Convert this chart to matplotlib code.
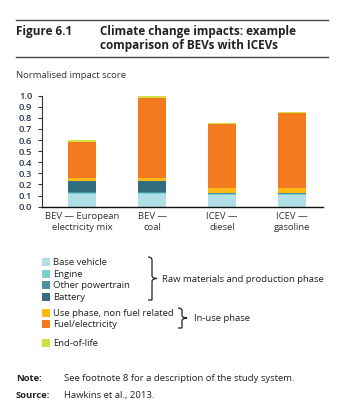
import matplotlib.pyplot as plt
import numpy as np
from matplotlib.path import Path
from matplotlib.patches import PathPatch, Rectangle

plt.rcParams['font.family'] = ['Open Sans', 'DejaVu Sans']

# data
categories = ['BEV \u2014 European\nelectricity mix', 'BEV \u2014\ncoal', 'ICEV \u2014\ndiesel', 'ICEV \u2014\ngasoline']
base_vehicle = [0.11, 0.11, 0.105, 0.105]
engine = [0.01, 0.01, 0.01, 0.01]
other_powertrain = [0.015, 0.015, 0.01, 0.01]
battery = [0.10, 0.10, 0.0, 0.0]
use_phase = [0.025, 0.025, 0.04, 0.04]
fuel = [0.325, 0.715, 0.58, 0.68]
end_of_life = [0.015, 0.025, 0.01, 0.01]

series_names = ['Base vehicle', 'Engine', 'Other powertrain', 'Battery',
                'Use phase, non fuel related', 'Fuel/electricity', 'End-of-life']
series = [base_vehicle, engine, other_powertrain, battery, use_phase, fuel, end_of_life]
colors = ['#b0e0e6', '#7dcfcc', '#4a92a6', '#336e80', '#fdb813', '#f47a20', '#d6df42']

W, H = 354, 415
fig = plt.figure(figsize=(W / 100, H / 100), dpi=100)

# overlay axes in pixel coordinates for the text furniture
ov = fig.add_axes([0, 0, 1, 1])
ov.set_xlim(0, W)
ov.set_ylim(H, 0)
ov.axis('off')

ov.plot([16, 328], [20, 20], color='#444444', lw=1.0)
ov.plot([16, 328], [57, 57], color='#444444', lw=1.0)
ov.text(16, 32, 'Figure 6.1', fontsize=8.5, fontweight='bold', va='center', color='#222222')
ov.text(100, 32, 'Climate change impacts: example', fontsize=8.5,
        fontweight='bold', va='center', color='#222222')
ov.text(100, 46, 'comparison of BEVs with ICEVs', fontsize=8.5,
        fontweight='bold', va='center', color='#222222')
ov.text(16, 76, 'Normalised impact score', fontsize=6.8, va='center', color='#333333')

# chart axes
x0, x1, ytop, ybot = 42, 323, 95.7, 206.7
ax = fig.add_axes([x0 / W, (H - ybot) / H, (x1 - x0) / W, (ybot - ytop) / H])
x = np.arange(len(categories))
bottom = np.zeros(len(categories))
for vals, c in zip(series, colors):
    ax.bar(x, vals, width=0.4, bottom=bottom, color=c, linewidth=0)
    bottom += np.array(vals)

ax.set_xlim(-0.57, 3.44)
ax.set_ylim(0, 1.0)
ax.set_yticks(np.arange(0, 1.01, 0.1))
ax.set_yticklabels([f'{v:.1f}' for v in np.arange(0, 1.01, 0.1)])
ax.set_xticks(x)
ax.set_xticklabels(categories)
ax.tick_params(axis='y', length=3, width=0.8, color='#333333', labelsize=6.8,
               labelcolor='#2c3a52', pad=4)
ax.tick_params(axis='x', length=0, labelsize=6.8, labelcolor='#333333', pad=4)
for lab in ax.get_yticklabels():
    lab.set_fontweight('semibold')
ax.spines['top'].set_visible(False)
ax.spines['right'].set_visible(False)
ax.spines['left'].set_color('#333333')
ax.spines['left'].set_linewidth(0.8)
ax.spines['bottom'].set_color('#111111')
ax.spines['bottom'].set_linewidth(1.0)

# legend
rows_y = [262, 274, 285, 297, 313, 324, 343]
for name, c, yy in zip(series_names, colors, rows_y):
    ov.add_patch(Rectangle((42, yy - 4), 8, 8, color=c, lw=0))
    ov.text(53, yy, name, fontsize=6.8, va='center', color='#222222')


def brace(xl, yt, yb, tip):
    ym = (yt + yb) / 2
    xm = xl + 4
    verts = [(xl, yt), (xm, yt), (xm, yt + 3), (xm, yt + 4),
             (xm, ym - 3),
             (xm, ym), (tip, ym),
             (xm, ym), (xm, ym + 3),
             (xm, yb - 4),
             (xm, yb - 3), (xm, yb), (xl, yb)]
    codes = [Path.MOVETO, Path.CURVE3, Path.CURVE3, Path.LINETO,
             Path.LINETO,
             Path.CURVE3, Path.CURVE3,
             Path.CURVE3, Path.CURVE3,
             Path.LINETO,
             Path.CURVE3, Path.CURVE3, Path.LINETO]
    ov.add_patch(PathPatch(Path(verts, codes), fill=False, lw=0.9, color='#222222'))


brace(148, 257, 300, 157)
ov.text(162, 279, 'Raw materials and production phase', fontsize=6.8, va='center', color='#222222')
brace(178, 308, 328, 187)
ov.text(194, 318, 'In-use phase', fontsize=6.8, va='center', color='#222222')

ov.text(16, 378, 'Note:', fontsize=6.8, fontweight='bold', va='center', color='#222222')
ov.text(64, 378, 'See footnote 8 for a description of the study system.', fontsize=6.8,
        va='center', color='#222222')
ov.text(16, 395, 'Source:', fontsize=6.8, fontweight='bold', va='center', color='#222222')
ov.text(64, 395, 'Hawkins et al., 2013.', fontsize=6.8, va='center', color='#222222')

fig.savefig('out.png', dpi=100)
